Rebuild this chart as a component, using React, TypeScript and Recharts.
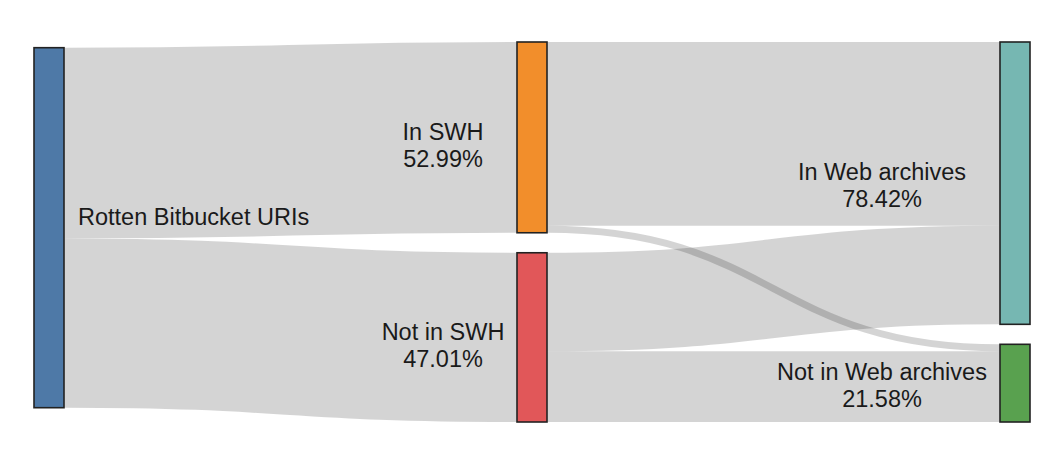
import { Sankey } from "recharts";

const NODE_NAMES = [
  "Rotten Bitbucket URIs",
  "In SWH",
  "Not in SWH",
  "In Web archives",
  "Not in Web archives",
];
const NODE_COLORS = ["#4e79a7", "#f28e2b", "#e15759", "#76b7b2", "#59a14f"];

// flows in % of all rotten URIs
const LINK_SOURCES = [0, 0, 1, 1, 2, 2];
const LINK_TARGETS = [1, 2, 3, 4, 3, 4];
const LINK_VALUES = [52.99, 47.01, 51.05, 1.94, 27.37, 19.64];

const data = {
  nodes: NODE_NAMES.map((name, i) => ({ name, color: NODE_COLORS[i] })),
  links: LINK_VALUES.map((value, i) => ({
    source: LINK_SOURCES[i],
    target: LINK_TARGETS[i],
    value,
  })),
};

const FONT = "'Liberation Sans', Arial, Helvetica, sans-serif";

function SankeyNode(props: any) {
  const { x, y, width, height, payload } = props;
  const depth = payload.depth;
  const cy = y + height / 2;
  const textStyle = { fontFamily: FONT, fontSize: 23.5, fill: "#1a1a1a" };

  let label;
  if (depth === 0) {
    label = (
      <text x={x + width + 14} y={cy - 2.5} textAnchor="start" style={textStyle}>
        {payload.name}
      </text>
    );
  } else {
    // labels of a column are centred on a shared axis left of the nodes
    const cx = depth === 1 ? x - 74 : x - 118;
    const base = depth === 1 ? cy + 3 : cy - 3;
    label = (
      <text textAnchor="middle" style={textStyle}>
        <tspan x={cx} y={base}>{payload.name}</tspan>
        <tspan x={cx} y={base + 27}>{`${payload.value.toFixed(2)}%`}</tspan>
      </text>
    );
  }

  return (
    <g>
      <rect x={x} y={y} width={width} height={height}
        fill={payload.color} stroke="#222" strokeWidth={1.6} />
      {label}
    </g>
  );
}

function SankeyLink(props: any) {
  const { sourceX, targetX, sourceY, targetY, sourceControlX, targetControlX, linkWidth } = props;
  return (
    <path
      d={`M${sourceX},${sourceY}C${sourceControlX},${sourceY} ${targetControlX},${targetY} ${targetX},${targetY}`}
      fill="none"
      stroke="#000"
      strokeOpacity={0.17}
      strokeWidth={linkWidth}
    />
  );
}

export default function App() {
  return (
    <div style={{ width: 1048, height: 448 }}>
      <Sankey
        width={1048}
        height={448}
        data={data}
        nodeWidth={30}
        nodePadding={20}
        linkCurvature={0.5}
        iterations={32}
        margin={{ top: 34, right: 26, bottom: 34, left: 26 }}
        node={<SankeyNode />}
        link={<SankeyLink />}
        isAnimationActive={false}
      />
    </div>
  );
}
